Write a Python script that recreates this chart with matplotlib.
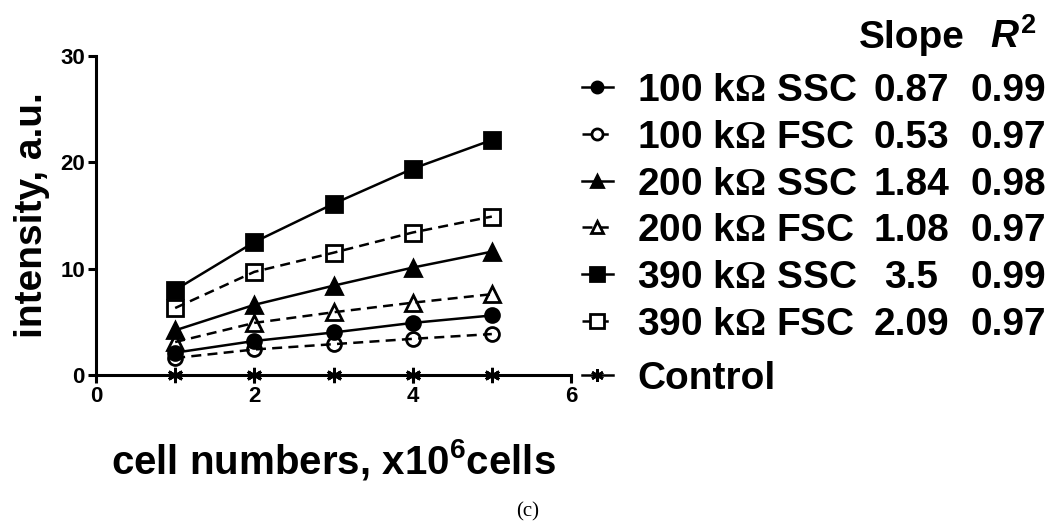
import matplotlib
matplotlib.use("Agg")
import matplotlib.pyplot as plt

plt.rcParams['font.family'] = ['Liberation Sans', 'DejaVu Sans']
plt.rcParams['font.weight'] = 'bold'
plt.rcParams['mathtext.fontset'] = 'custom'
plt.rcParams['mathtext.rm'] = 'Liberation Serif:bold'
plt.rcParams['mathtext.it'] = 'Liberation Sans:italic:bold'
plt.rcParams['mathtext.bf'] = 'Liberation Sans:bold'
plt.rcParams['mathtext.sf'] = 'Liberation Sans:bold'

# data
cells = [1, 2, 3, 4, 5]
ssc_100 = [2.1, 3.2, 4.0, 4.9, 5.6]
fsc_100 = [1.6, 2.4, 2.9, 3.4, 3.85]
ssc_200 = [4.2, 6.6, 8.4, 10.1, 11.6]
fsc_200 = [3.1, 4.9, 5.9, 6.8, 7.6]
ssc_390 = [8.0, 12.5, 16.1, 19.4, 22.1]
fsc_390 = [6.3, 9.7, 11.5, 13.4, 14.9]
control = [0, 0, 0, 0, 0]

labels = [r'100 k$\mathrm{\Omega}$ SSC', r'100 k$\mathrm{\Omega}$ FSC',
          r'200 k$\mathrm{\Omega}$ SSC', r'200 k$\mathrm{\Omega}$ FSC',
          r'390 k$\mathrm{\Omega}$ SSC', r'390 k$\mathrm{\Omega}$ FSC', 'Control']
slopes = ['0.87', '0.53', '1.84', '1.08', '3.5', '2.09', '']
r2 = ['0.99', '0.97', '0.98', '0.97', '0.99', '0.97', '']

series = [ssc_100, fsc_100, ssc_200, fsc_200, ssc_390, fsc_390, control]
markers = ['o', 'o', '^', '^', 's', 's', (6, 2, 0)]
filled = [True, False, True, False, True, False, True]
msizes = [10, 10, 11, 11, 12, 12, 11]
dashed = [False, True, False, True, False, True, False]

fig = plt.figure(figsize=(10.51, 5.31), dpi=100)
ax = fig.add_axes([96 / 1051, 156 / 531, 475 / 1051, 319 / 531])

for ys, m, f, ms, d in zip(series, markers, filled, msizes, dashed):
    ax.plot(cells, ys, color='black', lw=1.8,
            linestyle=(0, (4, 2.5)) if d else '-',
            marker=m, markersize=ms, markeredgewidth=2,
            markerfacecolor='black' if f else 'none',
            markeredgecolor='black', clip_on=False, zorder=3)

ax.set_xlim(0, 6)
ax.set_ylim(0, 30)
ax.set_xticks([0, 2, 4, 6])
ax.set_yticks([0, 10, 20, 30])
for s in ['top', 'right']:
    ax.spines[s].set_visible(False)
for s in ['left', 'bottom']:
    ax.spines[s].set_linewidth(2.2)
ax.tick_params(direction='out', length=6, width=2.2, labelsize=16, pad=2)
for lab in ax.get_xticklabels() + ax.get_yticklabels():
    lab.set_fontweight('bold')

ax.set_ylabel('intensity, a.u.', fontsize=28, fontweight='bold', va='center')
ax.yaxis.set_label_coords(-0.135, 0.5)
ax.set_xlabel(r'cell numbers, x10$^{\mathsf{6}}$cells', fontsize=29,
              fontweight='bold', va='center')
ax.xaxis.set_label_coords(0.5, -0.265)

# legend table drawn in pixel coordinates
lax = fig.add_axes([0, 0, 1, 1])
lax.set_xlim(0, 1051)
lax.set_ylim(531, 0)
lax.axis('off')
lax.patch.set_visible(False)

rows = [87, 134, 181, 227, 274, 321, 375]
for i, y in enumerate(rows):
    d = dashed[i]
    lax.plot([582, 613], [y, y], color='black', lw=1.8,
             linestyle=(0, (4, 2.5)) if d else '-')
    lax.plot([597], [y], color='black', marker=markers[i],
             markersize=msizes[i] - 2, markeredgewidth=2,
             markerfacecolor='black' if filled[i] else 'white',
             markeredgecolor='black')
    lax.text(637, y + 14, labels[i], fontsize=28, fontweight='bold',
             ha='left', va='baseline')
    lax.text(911, y + 14, slopes[i], fontsize=28, fontweight='bold',
             ha='center', va='baseline')
    lax.text(1008, y + 14, r2[i], fontsize=28, fontweight='bold',
             ha='center', va='baseline')

lax.text(912, 48, 'Slope', fontsize=28, fontweight='bold', ha='center', va='baseline')
lax.text(990, 48, r'$\mathit{R}^{\mathsf{2}}$', fontsize=28, ha='left', va='baseline')

lax.text(528, 512, '(c)', fontsize=15, fontweight='normal',
         family='Liberation Serif', ha='center', va='center')

fig.savefig('out.png', dpi=100)
